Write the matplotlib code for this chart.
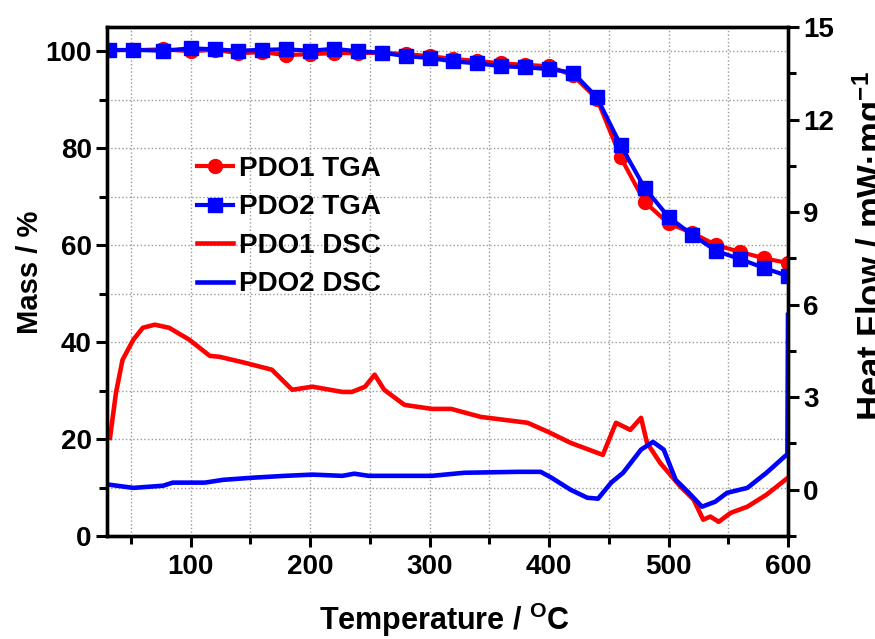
import numpy as np
import matplotlib
matplotlib.use('Agg')
import matplotlib.pyplot as plt
from matplotlib.ticker import MultipleLocator
from matplotlib.lines import Line2D

plt.rcParams['font.family'] = ['Liberation Sans', 'DejaVu Sans']
plt.rcParams['font.weight'] = 'bold'
plt.rcParams['mathtext.fontset'] = 'custom'
plt.rcParams['mathtext.rm'] = 'Liberation Sans:bold'
plt.rcParams['mathtext.it'] = 'Liberation Sans:bold'
plt.rcParams['mathtext.bf'] = 'Liberation Sans:bold'

# TGA (mass %), markers
tga_t = [32, 52, 77, 100, 120, 140, 160, 180, 200, 220, 240, 260, 280, 300, 320,
         340, 360, 380, 400, 420, 440, 460, 480, 500, 520, 540, 560, 580, 600]
tga_pdo1 = [100.3, 100.2, 100.4, 100.0, 100.3, 99.6, 99.8, 99.2, 99.4, 99.6, 99.6,
            99.7, 99.4, 99.0, 98.4, 98.0, 97.5, 97.2, 96.9, 95.0, 90.2, 78.1, 68.9,
            64.5, 62.5, 60.0, 58.6, 57.3, 56.3]
tga_pdo2 = [100.2, 100.3, 100.1, 100.6, 100.4, 100.1, 100.3, 100.4, 100.1, 100.5, 100.0,
            99.7, 99.0, 98.6, 97.9, 97.5, 96.9, 96.7, 96.3, 95.6, 90.5, 80.6, 71.8,
            65.8, 62.1, 58.8, 57.1, 55.3, 53.6]

# DSC (heat flow mW/mg)
dsc1_t = [32.5, 37.5, 43, 52, 60, 70, 82, 99, 116, 124, 146, 168, 185, 202, 227,
          235, 246, 254, 262, 279, 302, 318, 343, 382, 399, 418, 427, 445, 456, 468,
          477, 482, 493, 510, 521, 529, 535, 542, 552, 566, 582, 600]
dsc1_v = [1.68, 3.14, 4.21, 4.86, 5.25, 5.35, 5.25, 4.86, 4.34, 4.31, 4.11, 3.89, 3.24,
          3.34, 3.17, 3.17, 3.34, 3.73, 3.24, 2.75, 2.62, 2.62, 2.36, 2.17, 1.88, 1.52,
          1.39, 1.13, 2.17, 1.94, 2.33, 1.52, 0.87, 0.10, -0.32, -0.97, -0.87, -1.04,
          -0.75, -0.55, -0.16, 0.39]
dsc2_t = [32.5, 52, 77, 85, 112, 127, 152, 179, 202, 227, 237, 249, 302, 329, 374,
          393, 402, 418, 432, 441, 452, 462, 477, 487, 496, 506, 516, 528, 539, 549,
          566, 582, 597, 599.5, 600]
dsc2_v = [0.16, 0.06, 0.13, 0.23, 0.23, 0.32, 0.39, 0.45, 0.49, 0.45, 0.52, 0.45, 0.45,
          0.55, 0.58, 0.58, 0.39, 0.0, -0.26, -0.29, 0.23, 0.55, 1.30, 1.55, 1.30, 0.32,
          -0.06, -0.55, -0.39, -0.10, 0.06, 0.55, 1.07, 1.15, 5.67]

red = '#ff0000'
blue = '#0000ff'

fig = plt.figure(figsize=(8.75, 6.39), dpi=100)
ax = fig.add_axes([107/875, 1-536/639, (788-107)/875, (536-27)/639])
ax2 = ax.twinx()

ax.plot(tga_t, tga_pdo1, '-o', color=red, lw=3, ms=10, zorder=3)
ax.plot(tga_t, tga_pdo2, '-s', color=blue, lw=3, ms=10, zorder=4)
ax2.plot(dsc1_t, dsc1_v, '-', color=red, lw=3.3, solid_joinstyle='round')
ax2.plot(dsc2_t, dsc2_v, '-', color=blue, lw=3.3, solid_joinstyle='round')

ax.set_xlim(30, 600)
ax.set_ylim(0, 105)
ax2.set_ylim(-1.5, 15)

ax.xaxis.set_major_locator(MultipleLocator(100))
ax.xaxis.set_minor_locator(MultipleLocator(50))
ax.yaxis.set_major_locator(MultipleLocator(20))
ax.yaxis.set_minor_locator(MultipleLocator(10))
ax2.yaxis.set_major_locator(MultipleLocator(3))
ax2.yaxis.set_minor_locator(MultipleLocator(1.5))

ax.grid(True, which='both', ls=':', color='#999999', lw=1)

for a in (ax, ax2):
    for s in a.spines.values():
        s.set_linewidth(2.4)
    a.tick_params(which='major', direction='out', length=8, width=2.2, labelsize=20, pad=3)
    a.tick_params(which='minor', direction='out', length=5.5, width=2.2)
ax.tick_params(axis='x', pad=5)
ax.tick_params(top=False, which='both')
ax2.tick_params(top=False, which='both')

for lab in ax.get_xticklabels() + ax.get_yticklabels() + ax2.get_yticklabels():
    lab.set_fontweight('bold')

fig.text(30/875, 1-272/639, 'Mass / %', rotation=90, ha='center', va='center', fontsize=21, fontweight='bold')
fig.text(445/875, 1-630/639, 'Temperature / $^{O}$C', ha='center', va='baseline', fontsize=22, fontweight='bold')
fig.text(851/875, 1-421/639, 'Heat Flow / mW·mg$^{-1}$', rotation=90, ha='left', va='bottom', fontsize=25, fontweight='bold')

handles = [Line2D([], [], color=red, marker='o', lw=3, ms=10),
           Line2D([], [], color=blue, marker='s', lw=3, ms=10),
           Line2D([], [], color=red, lw=3.3),
           Line2D([], [], color=blue, lw=3.3)]
labels = ['PDO1 TGA', 'PDO2 TGA', 'PDO1 DSC', 'PDO2 DSC']
leg = ax2.legend(handles, labels, loc='upper left', bbox_to_anchor=(183/875, 1-142/639),
                 bbox_transform=fig.transFigure, frameon=False, borderpad=0,
                 handlelength=1.3, handletextpad=0.2, labelspacing=0.45,
                 prop={'size': 20, 'weight': 'bold'})

fig.savefig('out.png', dpi=100)
